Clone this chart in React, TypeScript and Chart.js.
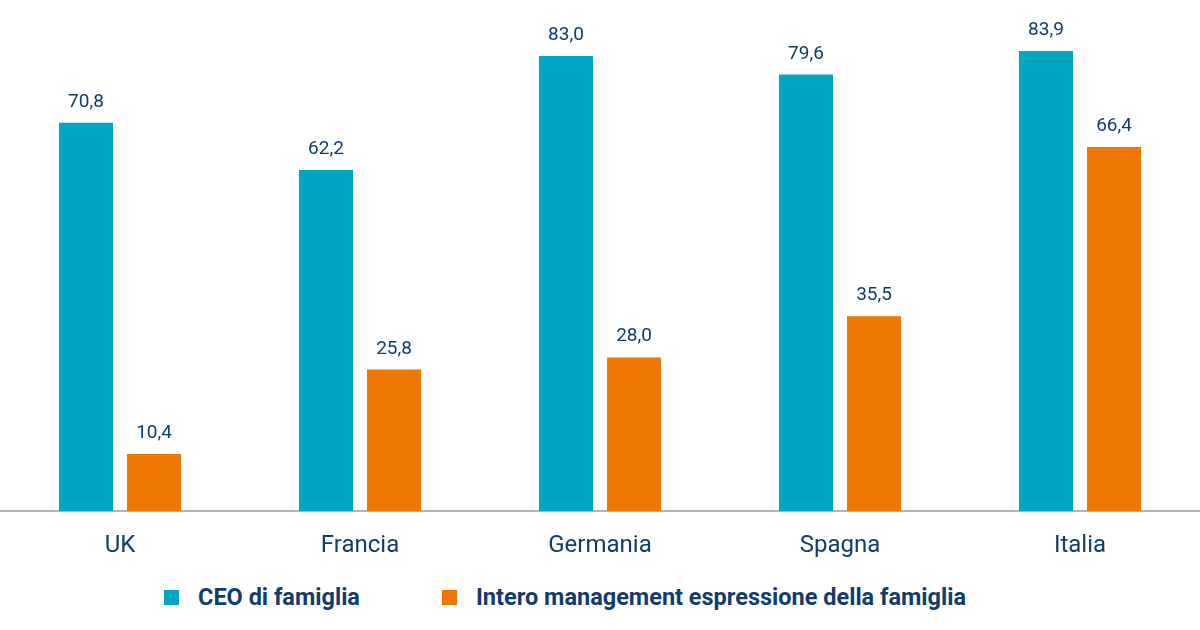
import React, { useEffect, useRef } from "react";
import { Chart, registerables } from "chart.js";

Chart.register(...registerables);

const categories = ["UK", "Francia", "Germania", "Spagna", "Italia"];
const ceoFamiglia = [70.8, 62.2, 83.0, 79.6, 83.9];
const managementFamiglia = [10.4, 25.8, 28.0, 35.5, 66.4];
const seriesNames = ["CEO di famiglia", "Intero management espressione della famiglia"];

const TEAL = "#00A7C3";
const ORANGE = "#EE7701";
const NAVY = "#103C6E";
const FONT = "Roboto, 'Liberation Sans', sans-serif";

const valueLabels = {
  id: "valueLabels",
  afterDatasetsDraw(chart: any) {
    const ctx = chart.ctx;
    ctx.save();
    ctx.fillStyle = NAVY;
    ctx.font = `19px ${FONT}`;
    ctx.textAlign = "center";
    ctx.textBaseline = "alphabetic";
    chart.data.datasets.forEach((ds: any, i: number) => {
      const meta = chart.getDatasetMeta(i);
      meta.data.forEach((bar: any, j: number) => {
        const v = ds.data[j] as number;
        ctx.fillText(v.toFixed(1).replace(".", ","), bar.x, bar.y - 16);
      });
    });
    ctx.restore();
  },
};

export default function App() {
  const ref = useRef<HTMLCanvasElement>(null);
  useEffect(() => {
    document.body.style.margin = "0";
    const chart = new Chart(ref.current!, {
      type: "bar",
      data: {
        labels: categories,
        datasets: [
          { label: seriesNames[0], data: ceoFamiglia, backgroundColor: TEAL },
          { label: seriesNames[1], data: managementFamiglia, backgroundColor: ORANGE },
        ],
      },
      options: {
        animation: false,
        responsive: false,
        maintainAspectRatio: false,
        layout: { padding: 0 },
        datasets: { bar: { categoryPercentage: 0.567, barPercentage: 0.794 } },
        plugins: { legend: { display: false }, tooltip: { enabled: false } },
        scales: {
          y: { display: false, min: 0, max: 93.2 },
          x: {
            grid: { display: false, drawTicks: false },
            border: { display: true, color: "#B4B4B4", width: 2 },
            ticks: { color: NAVY, font: { family: FONT, size: 24 }, padding: 21 },
            afterFit: (s: any) => {
              s.height = 59;
            },
          },
        },
      },
      plugins: [valueLabels],
    });
    return () => chart.destroy();
  }, []);

  const legendItem = (color: string, text: string, left: number) => (
    <div style={{ position: "absolute", left, top: 582, display: "flex", alignItems: "center" }}>
      <div style={{ width: 15, height: 15, background: color, marginRight: 19 }} />
      <span style={{ fontFamily: FONT, fontWeight: 700, fontSize: 23.5, color: NAVY, whiteSpace: "nowrap", lineHeight: "30px" }}>{text}</span>
    </div>
  );

  return (
    <div style={{ position: "relative", width: 1200, height: 630, background: "#fff" }}>
      <canvas ref={ref} width={1200} height={570} style={{ display: "block" }} />
      {legendItem(TEAL, seriesNames[0], 164)}
      {legendItem(ORANGE, seriesNames[1], 442)}
    </div>
  );
}
